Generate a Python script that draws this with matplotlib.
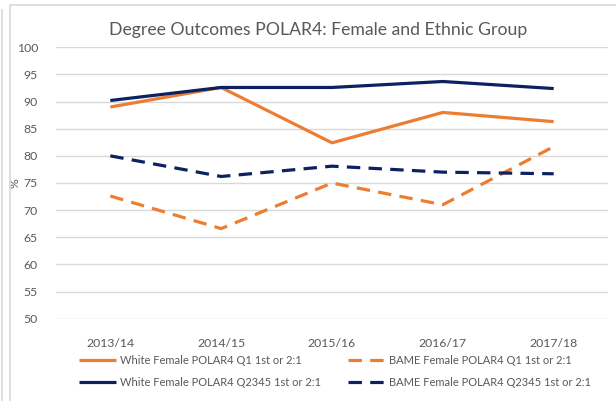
import matplotlib.pyplot as plt
from matplotlib.lines import Line2D
from matplotlib.patches import Rectangle

years = ['2013/14', '2014/15', '2015/16', '2016/17', '2017/18']
white_q1 = [89.0, 92.6, 82.4, 88.0, 86.3]
bame_q1 = [72.6, 66.6, 75.0, 71.0, 81.7]
white_q2345 = [90.2, 92.6, 92.6, 93.7, 92.4]
bame_q2345 = [80.0, 76.2, 78.1, 77.0, 76.7]

orange = '#ED7D31'
navy = '#0B2161'
grey = '#595959'

plt.rcParams['font.family'] = ['Lato', 'DejaVu Sans']

fig = plt.figure(figsize=(6.16, 4.01), dpi=100)
ax = fig.add_axes([56 / 616, 82.3 / 401, 552 / 616, 271.4 / 401])

x = range(len(years))
dash = (0, (4.2, 2.6))
# plotting order gives the row-wise legend layout of the original
ax.plot(x, white_q1, color=orange, lw=2.3, solid_capstyle='butt',
        label='White Female POLAR4 Q1 1st or 2:1')
ax.plot(x, white_q2345, color=navy, lw=2.3, solid_capstyle='butt',
        label='White Female POLAR4 Q2345 1st or 2:1')
ax.plot(x, bame_q1, color=orange, lw=2.3, ls=dash, dash_capstyle='butt',
        label='BAME Female POLAR4 Q1 1st or 2:1')
ax.plot(x, bame_q2345, color=navy, lw=2.3, ls=dash, dash_capstyle='butt',
        label='BAME Female POLAR4 Q2345 1st or 2:1')

ax.set_xlim(-0.49, 4.49)
ax.set_ylim(50, 100)
ax.set_yticks(range(50, 101, 5))
ax.set_xticks(list(x))
ax.set_xticklabels(years)
ax.grid(axis='y', color='#D9D9D9', lw=1)
ax.set_axisbelow(True)
for s in ax.spines.values():
    s.set_visible(False)
ax.tick_params(length=0, colors=grey, labelsize=8.8)
ax.tick_params(axis='y', pad=13)
ax.tick_params(axis='x', pad=14)
ax.set_ylabel('%', color=grey, fontsize=8.8)
ax.yaxis.set_label_coords(-0.065, 0.5)

fig.text(318 / 616, 1 - 30 / 401, 'Degree Outcomes POLAR4: Female and Ethnic Group',
         ha='center', va='center', fontsize=12.7, color=grey)

ax.legend(loc='upper left', bbox_to_anchor=(69 / 616, 1 - 345 / 401),
          bbox_transform=fig.transFigure, ncol=2, frameon=False,
          fontsize=8.0, labelcolor=grey, handlelength=3.3, handletextpad=0.35,
          columnspacing=2.5, labelspacing=1.0)

# screenshot frame
fig.patches.append(Rectangle((10 / 616, -0.1), 1.0, 1 - 5 / 401 + 0.1,
                             transform=fig.transFigure, fill=False,
                             ec='#D9D9D9', lw=1.2))
fig.lines.append(Line2D([2 / 616, 2 / 616], [0, 1 - 10 / 401],
                        transform=fig.transFigure, color='#D9D9D9', lw=1.2))

fig.savefig('out.png', dpi=100)
